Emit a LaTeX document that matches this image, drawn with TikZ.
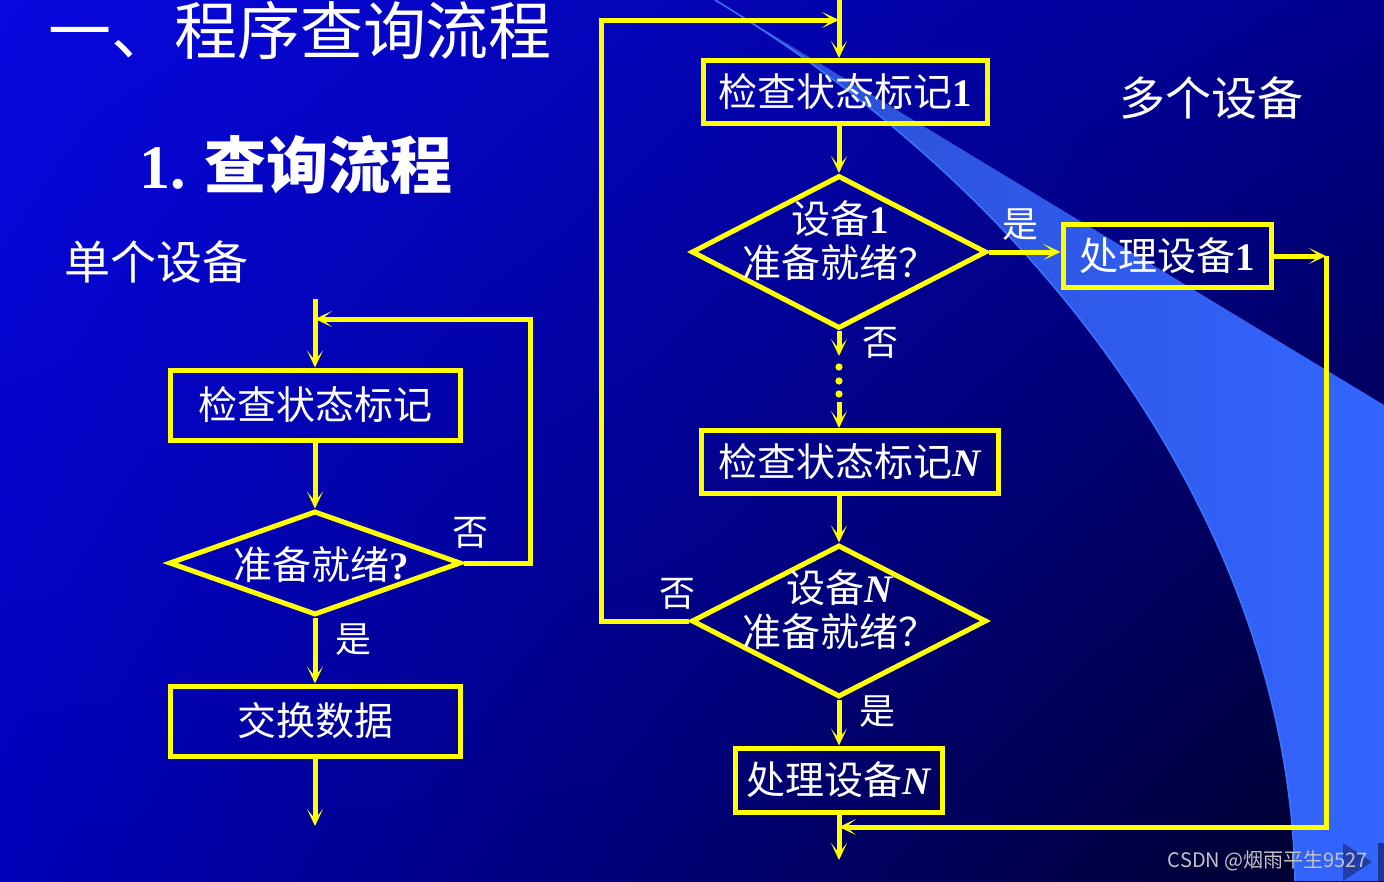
\documentclass[tikz,border=0pt]{standalone}
\usepackage{fontspec}
\setmainfont{Liberation Serif}
\newfontfamily\cjk{Noto Sans CJK SC}
\usetikzlibrary{positioning,shapes.geometric,arrows.meta,shadings}

\definecolor{flow}{HTML}{FFFF00}
\definecolor{bgTL}{HTML}{0808E0}
\definecolor{bgTR}{HTML}{00008C}
\definecolor{bgBL}{HTML}{0000B8}
\definecolor{bgBR}{HTML}{000028}
\definecolor{bandL}{HTML}{2A4CD0}
\definecolor{bandR}{HTML}{3366FF}
\definecolor{bandrim}{HTML}{3C76FF}
\definecolor{mark}{HTML}{C4C4C4}

\newcommand{\tnum}[1]{{\rmfamily\bfseries #1}}
\newcommand{\varN}{{\rmfamily\bfseries\itshape N}}

\begin{document}
\begin{tikzpicture}[x=1pt,y=-1pt,
  box/.style={draw=flow, line width=5pt, inner sep=0pt, text=white,
    font=\cjk\fontsize{39}{44}\selectfont},
  dia/.style={diamond, draw=flow, line width=5pt, inner sep=0pt},
  txt/.style={text=white, align=center, font=\cjk\fontsize{39}{44}\selectfont},
  lbl/.style={text=white, font=\cjk\fontsize{36}{36}\selectfont},
  arr/.style={draw=flow, line width=5pt, -{Stealth[length=17pt,width=16pt,inset=10pt]}},
]
  \useasboundingbox (0,0) rectangle (1384,881);
  % background and light band
  \shade[upper left=bgTL, upper right=bgTR, lower left=bgBL, lower right=bgBR]
    (0,0) rectangle (1384,881);
  \shade[left color=bandL, right color=bandR]
    (715,0) .. controls (1080,221) and (1290,560) .. (1295,881)
    -- (1384,881) -- (1384,405) -- cycle;
  \draw[bandrim, line width=1.5pt]
    (715,0) .. controls (1080,221) and (1290,560) .. (1295,881);

  % headings
  \node[text=white, font=\cjk\fontsize{63}{63}\selectfont] (title) at (300,30) {一、程序查询流程};
  \node[text=white, font=\cjk\bfseries\fontsize{62}{62}\selectfont] (sub) at (296,165) {\tnum{1.} 查询流程};
  \node[text=white, font=\cjk\fontsize{46}{46}\selectfont] (single) at (156,262) {单个设备};
  \node[text=white, font=\cjk\fontsize{46}{46}\selectfont] (multi) at (1211,98) {多个设备};

  % single device
  \coordinate (in) at (315,299);
  \coordinate (back) at (315,319);
  \coordinate (lp) at (530,319);
  \node[box, minimum width=290pt, minimum height=70pt] (chk) at (315,405) {检查状态标记};
  \node[dia, minimum width=292pt, minimum height=104pt] (rdy) at (315,563) {};
  \node[txt] (rdyt) at (321,565) {准备就绪\tnum{?}};
  \node[box, minimum width=290pt, minimum height=70pt] (swap) at (315,721) {交换数据};
  \coordinate (out) at (315,826);
  \draw[arr] (in) -- (chk.north);
  \draw[arr] (chk.south) -- (rdy.north);
  \draw[arr] (rdy.south) -- (swap.north);
  \draw[arr] (swap.south) -- (out);
  \draw[arr] (rdy.east) -| (lp) -- (back);
  \node[lbl] (no0) at (470,533) {否};
  \node[lbl, below right=3pt and 17pt of rdy.south] (yes0) {是};

  % several devices
  \coordinate (top) at (839,0);
  \coordinate (join) at (839,20);
  \coordinate (l1) at (601,20);
  \node[box, minimum width=284pt, minimum height=63pt] (chk1) at (845,92) {检查状态标记\tnum{1}};
  \node[dia, minimum width=295pt, minimum height=153pt] (rdy1) at (839,252) {};
  \node[txt] (rdy1t) at (840,241) {设备\tnum{1}\\准备就绪？};
  \node[box, minimum width=208pt, minimum height=63pt] (do1) at (1167,256) {处理设备\tnum{1}};
  \coordinate (r1) at (1326,256);
  \coordinate (ret) at (839,827);
  \coordinate (dd1) at (839,356);
  \coordinate (dd2) at (839,402);
  \node[box, minimum width=297pt, minimum height=63pt] (chkN) at (850,462) {检查状态标记\varN};
  \node[dia, minimum width=295pt, minimum height=152pt] (rdyN) at (839,621) {};
  \node[txt] (rdyNt) at (840,610) {设备\varN\\准备就绪？};
  \node[box, minimum width=207pt, minimum height=64pt] (doN) at (839,780) {处理设备\varN};
  \coordinate (exit) at (839,860);

  \draw[arr] (top) -- (chk1.north -| top);
  \draw[arr] (chk1.south -| rdy1.north) -- (rdy1.north);
  \draw[arr] (rdy1.east) -- (rdy1.east -| do1.west);
  \draw[arr] (do1.east) -- (r1);
  \draw[arr] (r1) |- (ret);
  \draw[arr] (rdy1.south) -- (dd1);
  \foreach \y in {367,381,394}
    \fill[flow] (839,\y) circle (3.6pt);
  \draw[arr] (dd2) -- (chkN.north -| dd2);
  \draw[arr] (chkN.south -| rdyN.north) -- (rdyN.north);
  \draw[arr] (rdyN.south) -- (doN.north);
  \draw[arr] (doN.south) -- (exit);
  \draw[arr] (rdyN.west) -| (l1) -- (join);
  \node[lbl] (yes1) at (1020,225) {是};
  \node[lbl] (no1) at (880,343) {否};
  \node[lbl] (noN) at (677,594) {否};
  \node[lbl] (yesN) at (877,712) {是};

  % watermark and slide arrow
  \fill[bandL!80!black] (1343,843) -- (1372,862) -- (1343,881) -- cycle;
  \fill[bandL!70!black] (1378,843) rectangle (1384,881);
  \node[text=mark, font=\cjk\fontsize{20}{20}\selectfont] (wm) at (1268,861) {CSDN @烟雨平生9527};
\end{tikzpicture}
\end{document}
